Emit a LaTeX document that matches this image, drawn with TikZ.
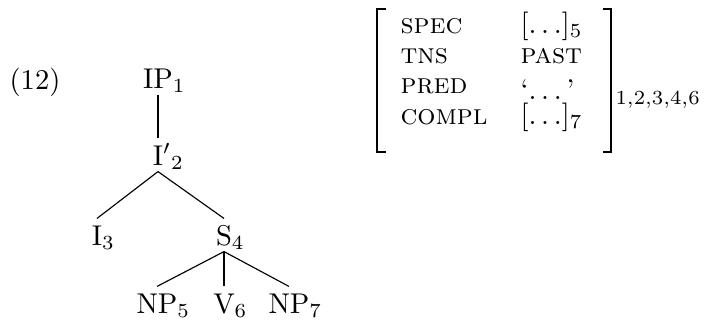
\documentclass[tikz,border=0pt]{standalone}
\begin{document}
\begin{tikzpicture}[x=0.35pt,y=-0.35pt,
    cat/.style={anchor=base,inner xsep=0pt,inner ysep=2.1pt,text height=7pt,text depth=0pt},
    feat/.style={anchor=base west,inner sep=0pt}]
    \useasboundingbox (0,0) rectangle (706,325);
    % example number
    \node[anchor=base] (ex) at (35,89) {(12)};
    % the tree
    \node[cat] (ip) at (158,88) {IP\rlap{$_1$}};
    \node[cat] (ibar) at (158,165) {I\rlap{$'{}_2$}};
    \node[cat] (ithree) at (97,245) {I\rlap{$_3$}};
    \node[cat] (s) at (224,245) {S\rlap{$_4$}};
    \node[cat] (npfive) at (157,313) {NP\rlap{$_5$}};
    \node[cat] (v) at (224,313) {V\rlap{$_6$}};
    \node[cat] (npseven) at (289,313) {NP\rlap{$_7$}};
    \draw (ip.south) -- (ibar.north);
    \draw (ibar.south) -- (ithree.north);
    \draw (ibar.south) -- (s.north);
    \draw (s.south) -- (npfive.north);
    \draw (s.south) -- (v.north);
    \draw (s.south) -- (npseven.north);
    % the f-structure
    \node[feat] (spec) at (400,33) {\textsc{spec}};
    \node[feat] (tns) at (400,63) {\textsc{tns}};
    \node[feat] (pred) at (400,93) {\textsc{pred}};
    \node[feat] (compl) at (400,124) {\textsc{compl}};
    \node[feat] (specval) at (520,33) {$[\ldots]_5$};
    \node[feat] (tnsval) at (520,63) {\textsc{past}};
    \node[feat] (predval) at (520,99) {`$\ldots$\,'};
    \node[feat] (complval) at (520,124) {$[\ldots]_7$};
    \draw[line width=0.8pt] (386,9) -- (377,9) -- (377,152) -- (386,152);
    \draw[line width=0.8pt] (603,9) -- (611,9) -- (611,152) -- (603,152);
    \node[feat] (idx) at (615,100) {$_{1,2,3,4,6}$};
\end{tikzpicture}
\end{document}
